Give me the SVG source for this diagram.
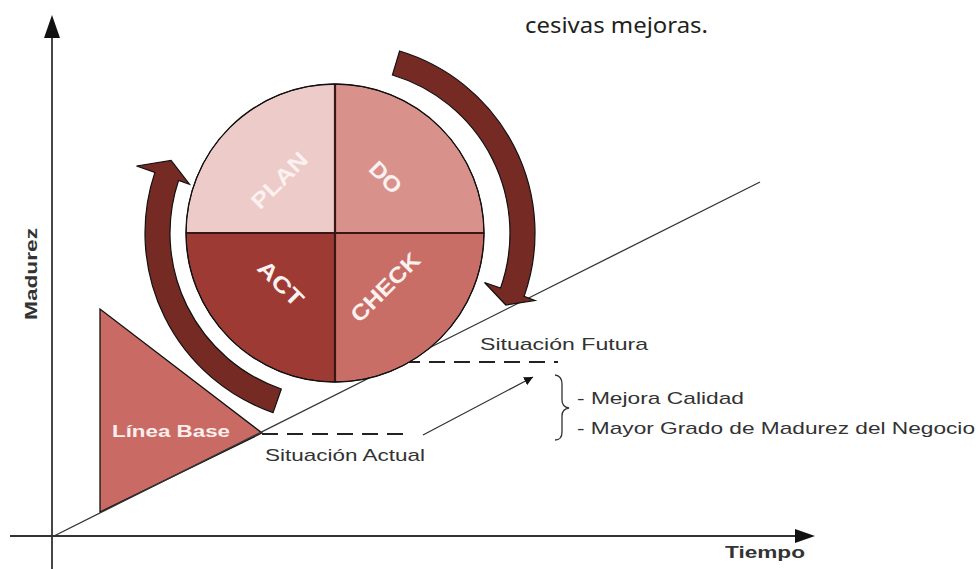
<svg xmlns="http://www.w3.org/2000/svg" width="980" height="569" viewBox="0 0 980 569">
<defs>
<style>
.axis{stroke:#333;stroke-width:1.8;fill:none}
.thin{stroke:#333;stroke-width:1.3;fill:none}
.dash{stroke:#222;stroke-width:1.8;fill:none;stroke-dasharray:16 9}
.quad{stroke:#111;stroke-width:1}
.div{stroke:#3a1715;stroke-width:2.2}
.arc{fill:#762a24;stroke:#111;stroke-width:1.2;stroke-linejoin:miter}
.lbl{font-family:"Liberation Sans",Arial,sans-serif;fill:#333;font-size:17px}
.in{font-family:"Liberation Sans",Arial,sans-serif;font-weight:bold;fill:#fbf1f0;font-size:22px;text-anchor:middle}
.ax{font-family:"Liberation Sans",Arial,sans-serif;font-weight:bold;fill:#333;font-size:17px}
</style>
<marker id="ah" viewBox="0 0 10 10" refX="10" refY="5" markerWidth="9" markerHeight="9" markerUnits="userSpaceOnUse" orient="auto">
<path d="M0,0 L10,5 L0,10 Z" fill="#111"/>
</marker>
</defs>
<rect width="980" height="569" fill="#fff"/>
<text x="525" y="33" font-family="'Noto Sans','Liberation Sans',sans-serif" font-size="22" fill="#231f20" textLength="183" lengthAdjust="spacingAndGlyphs">cesivas mejoras.</text>

<g id="axes">
<line class="axis" x1="52" y1="569" x2="52" y2="36"/>
<path d="M52,15 L60,38 L44,38 Z" fill="#111"/>
<line class="axis" x1="10" y1="536" x2="796" y2="536"/>
<path d="M815,536 L795,529 L795,543 Z" fill="#111"/>
<text class="ax" transform="translate(37,274) rotate(-90)" text-anchor="middle" textLength="92" lengthAdjust="spacingAndGlyphs">Madurez</text>
<text class="ax" x="725" y="558" textLength="80" lengthAdjust="spacingAndGlyphs">Tiempo</text>
</g>

<g id="linea-base">
<path d="M100,309 L100,512 L262,433 Z" fill="#c96b64" stroke="#111" stroke-width="1.3"/>
<text x="112" y="437" font-family="'Liberation Sans',Arial,sans-serif" font-weight="bold" font-size="17" fill="#fbeeed" textLength="118" lengthAdjust="spacingAndGlyphs">Línea Base</text>
</g>

<g id="connectors">
<line class="thin" x1="52" y1="537" x2="760" y2="182"/>
<line class="dash" x1="262" y1="434" x2="412" y2="434"/>
<line class="dash" x1="404" y1="362" x2="558" y2="362"/>
<line class="thin" x1="423" y1="435" x2="533" y2="377" marker-end="url(#ah)"/>
<path class="thin" d="M555,375 Q562,376 562,384 L562,400 Q562,407 569,408 Q562,409 562,416 L562,432 Q562,440 555,440"/>
</g>

<g id="pdca">
<path id="plan" class="quad" fill="#edcbc9" d="M335,233 L186,233 A149,149 0 0 1 335,84 Z"/>
<path id="do" class="quad" fill="#d9918c" d="M335,233 L335,84 A149,149 0 0 1 484,233 Z"/>
<path id="check" class="quad" fill="#c96e67" d="M335,233 L484,233 A149,149 0 0 1 335,382 Z"/>
<path id="act" class="quad" fill="#9d3a33" d="M335,233 L335,382 A149,149 0 0 1 186,233 Z"/>
<line class="div" x1="186" y1="233" x2="484" y2="233"/>
<line class="div" x1="335" y1="84" x2="335" y2="382"/>
<circle cx="335" cy="233" r="149" fill="none" stroke="#111" stroke-width="1.3"/>
<text class="in" transform="translate(279,180) rotate(-45)" y="8" textLength="70" lengthAdjust="spacingAndGlyphs">PLAN</text>
<text class="in" transform="translate(386,177) rotate(45)" y="8" textLength="36" lengthAdjust="spacingAndGlyphs">DO</text>
<text class="in" transform="translate(385,287) rotate(-45)" y="8" textLength="88" lengthAdjust="spacingAndGlyphs">CHECK</text>
<text class="in" transform="translate(281,283) rotate(45)" y="8" textLength="55" lengthAdjust="spacingAndGlyphs">ACT</text>
</g>

<g id="arrow-right">
<path class="arc" d="M399.6,51 A190,190 0 0 1 524.1,296.4 L535,300.5 L505.8,305 L484.5,282.5 L500.5,288.1 A165,165 0 0 0 392.4,75 Z"/>
</g>
<g id="arrow-left">
<path class="arc" d="M273.1,412.6 A190,190 0 0 1 154.9,172.4 L136.5,166 L171.1,160.5 L189.5,184.2 L178.6,180.4 A165,165 0 0 0 281.3,389 Z"/>
</g>

<g id="labels">
<text class="lbl" x="480" y="350" textLength="168" lengthAdjust="spacingAndGlyphs">Situación Futura</text>
<text class="lbl" x="265" y="461" textLength="160" lengthAdjust="spacingAndGlyphs">Situación Actual</text>
<text class="lbl" x="577" y="404" textLength="167" lengthAdjust="spacingAndGlyphs">- Mejora Calidad</text>
<text class="lbl" x="577" y="434" textLength="398" lengthAdjust="spacingAndGlyphs">- Mayor Grado de Madurez del Negocio</text>
</g>
</svg>
